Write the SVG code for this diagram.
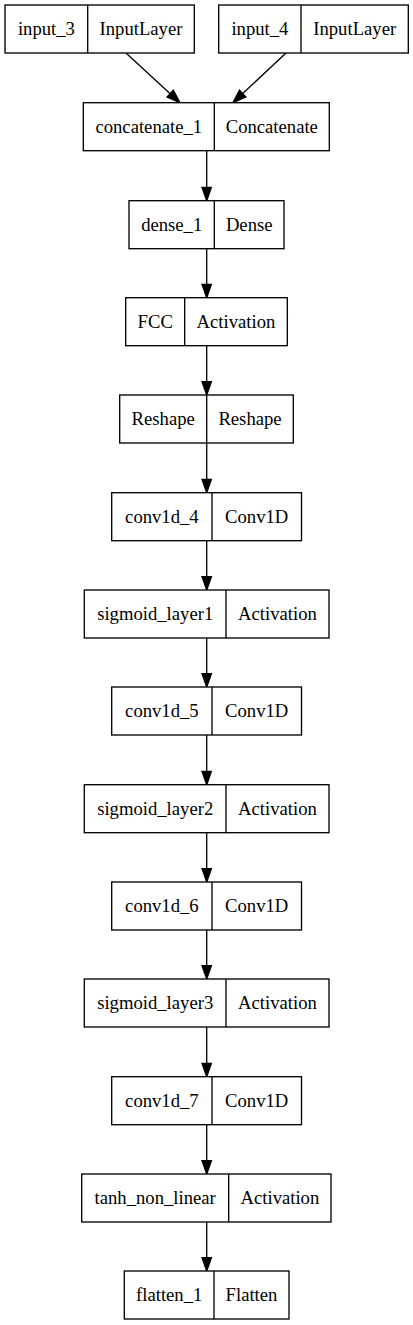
<svg xmlns="http://www.w3.org/2000/svg" width="413" height="1325" viewBox="0 0 413 1325">
<style>
.box{fill:#fff;stroke:#000;stroke-width:1.33}
.div{stroke:#000;stroke-width:1.33}
text{font-family:"Liberation Serif","Times New Roman",serif;font-size:18.67px;text-anchor:middle;fill:#000}
.edge{stroke:#000;stroke-width:1.33;fill:none;marker-end:url(#ah)}
</style>
<defs>
<marker id="ah" markerUnits="userSpaceOnUse" markerWidth="14" markerHeight="10" refX="0" refY="4.67" orient="auto" overflow="visible">
<path d="M0,0 L13.3,4.67 L0,9.33 z" fill="#000" stroke="#000" stroke-width="1.33"/>
</marker>
</defs>
<rect width="413" height="1325" fill="#fff"/>
<g id="edges">
<line class="edge" x1="126" y1="53" x2="170.2" y2="93.7"/>
<line class="edge" x1="286" y1="53" x2="242.7" y2="93.6"/>
<line class="edge" x1="206.7" y1="150.7" x2="206.7" y2="187.4"/>
<line class="edge" x1="206.7" y1="248.7" x2="206.7" y2="284.4"/>
<line class="edge" x1="206.7" y1="345.7" x2="206.7" y2="381.7"/>
<line class="edge" x1="206.7" y1="443" x2="206.7" y2="479.4"/>
<line class="edge" x1="206.7" y1="540.7" x2="206.7" y2="576.7"/>
<line class="edge" x1="206.7" y1="638" x2="206.7" y2="673.7"/>
<line class="edge" x1="206.7" y1="735" x2="206.7" y2="771.4"/>
<line class="edge" x1="206.7" y1="832.7" x2="206.7" y2="868.7"/>
<line class="edge" x1="206.7" y1="930" x2="206.7" y2="965.7"/>
<line class="edge" x1="206.7" y1="1027" x2="206.7" y2="1063.4"/>
<line class="edge" x1="206.7" y1="1124.7" x2="206.7" y2="1160.7"/>
<line class="edge" x1="206.7" y1="1222" x2="206.7" y2="1257.7"/>
</g>
<g id="input_3">
<rect class="box" x="5" y="5" width="189.3" height="48"/>
<line class="div" x1="87.7" y1="5" x2="87.7" y2="53"/>
<text x="46.4" y="35">input_3</text>
<text x="141" y="35">InputLayer</text>
</g>
<g id="input_4">
<rect class="box" x="218.7" y="5" width="189.6" height="48"/>
<line class="div" x1="301" y1="5" x2="301" y2="53"/>
<text x="259.9" y="35">input_4</text>
<text x="354.7" y="35">InputLayer</text>
</g>
<g id="concatenate_1">
<rect class="box" x="83.3" y="102.7" width="246" height="48"/>
<line class="div" x1="214.3" y1="102.7" x2="214.3" y2="150.7"/>
<text x="148.8" y="132.7">concatenate_1</text>
<text x="271.8" y="132.7">Concatenate</text>
</g>
<g id="dense_1">
<rect class="box" x="129" y="200.7" width="155" height="48"/>
<line class="div" x1="214.3" y1="200.7" x2="214.3" y2="248.7"/>
<text x="171.7" y="230.7">dense_1</text>
<text x="249.2" y="230.7">Dense</text>
</g>
<g id="FCC">
<rect class="box" x="125.7" y="297.7" width="161.6" height="48"/>
<line class="div" x1="184.7" y1="297.7" x2="184.7" y2="345.7"/>
<text x="155.2" y="327.7">FCC</text>
<text x="236" y="327.7">Activation</text>
</g>
<g id="reshape">
<rect class="box" x="119.7" y="395" width="173.6" height="48"/>
<line class="div" x1="206.7" y1="395" x2="206.7" y2="443"/>
<text x="163.2" y="425">Reshape</text>
<text x="250" y="425">Reshape</text>
</g>
<g id="conv1d_4">
<rect class="box" x="111.7" y="492.7" width="189.8" height="48"/>
<line class="div" x1="212" y1="492.7" x2="212" y2="540.7"/>
<text x="161.9" y="522.7">conv1d_4</text>
<text x="256.7" y="522.7">Conv1D</text>
</g>
<g id="sigmoid_layer1">
<rect class="box" x="84.3" y="590" width="244.7" height="48"/>
<line class="div" x1="226" y1="590" x2="226" y2="638"/>
<text x="155.2" y="620">sigmoid_layer1</text>
<text x="277.5" y="620">Activation</text>
</g>
<g id="conv1d_5">
<rect class="box" x="111.7" y="687" width="189.8" height="48"/>
<line class="div" x1="212" y1="687" x2="212" y2="735"/>
<text x="161.9" y="717">conv1d_5</text>
<text x="256.7" y="717">Conv1D</text>
</g>
<g id="sigmoid_layer2">
<rect class="box" x="84.3" y="784.7" width="244.7" height="48"/>
<line class="div" x1="226" y1="784.7" x2="226" y2="832.7"/>
<text x="155.2" y="814.7">sigmoid_layer2</text>
<text x="277.5" y="814.7">Activation</text>
</g>
<g id="conv1d_6">
<rect class="box" x="111.7" y="882" width="189.8" height="48"/>
<line class="div" x1="212" y1="882" x2="212" y2="930"/>
<text x="161.9" y="912">conv1d_6</text>
<text x="256.7" y="912">Conv1D</text>
</g>
<g id="sigmoid_layer3">
<rect class="box" x="84.3" y="979" width="244.7" height="48"/>
<line class="div" x1="226" y1="979" x2="226" y2="1027"/>
<text x="155.2" y="1009">sigmoid_layer3</text>
<text x="277.5" y="1009">Activation</text>
</g>
<g id="conv1d_7">
<rect class="box" x="111.7" y="1076.7" width="189.8" height="48"/>
<line class="div" x1="212" y1="1076.7" x2="212" y2="1124.7"/>
<text x="161.9" y="1106.7">conv1d_7</text>
<text x="256.7" y="1106.7">Conv1D</text>
</g>
<g id="tanh_non_linear">
<rect class="box" x="81.7" y="1174" width="249.3" height="48"/>
<line class="div" x1="228.7" y1="1174" x2="228.7" y2="1222"/>
<text x="155.2" y="1204">tanh_non_linear</text>
<text x="279.9" y="1204">Activation</text>
</g>
<g id="flatten_1">
<rect class="box" x="124.3" y="1271" width="164.7" height="48"/>
<line class="div" x1="214" y1="1271" x2="214" y2="1319"/>
<text x="169.2" y="1301">flatten_1</text>
<text x="251.5" y="1301">Flatten</text>
</g>
</svg>
